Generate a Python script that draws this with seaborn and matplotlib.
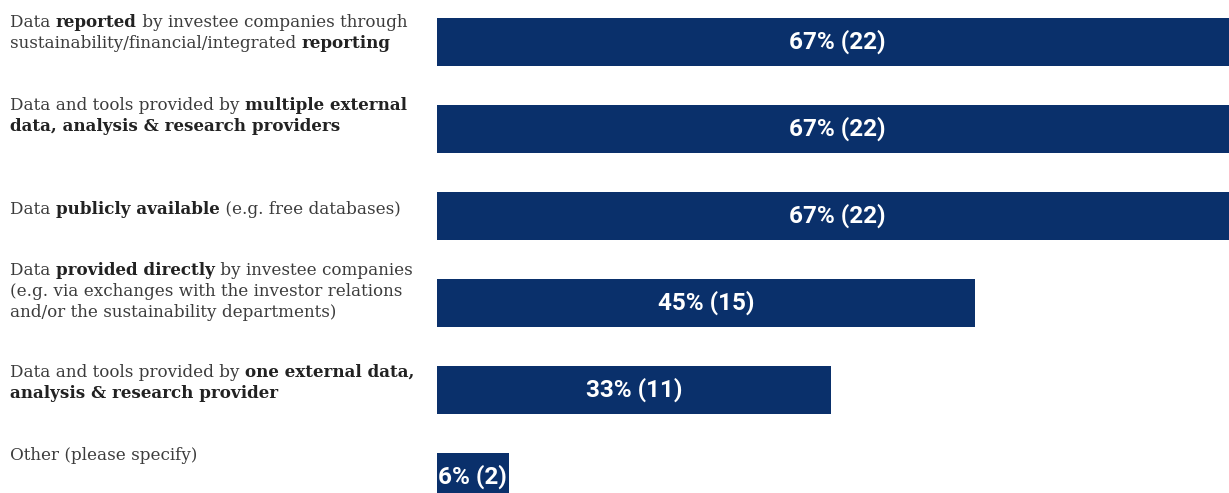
import matplotlib
matplotlib.use("Agg")
import matplotlib.pyplot as plt
import matplotlib.transforms as mtransforms
import seaborn as sns
import pandas as pd

# Survey responses: share of respondents and respondent counts
categories = [
    "Data reported by investee companies through sustainability/financial/integrated reporting",
    "Data and tools provided by multiple external data, analysis & research providers",
    "Data publicly available (e.g. free databases)",
    "Data provided directly by investee companies (e.g. via exchanges with the investor relations and/or the sustainability departments)",
    "Data and tools provided by one external data, analysis & research provider",
    "Other (please specify)",
]
percentages = [67, 67, 67, 45, 33, 6]
counts = [22, 22, 22, 15, 11, 2]

# Category labels split into lines of (text, is_bold) runs
label_runs = [
    [[("Data ", False), ("reported", True), (" by investee companies through", False)],
     [("sustainability/financial/integrated ", False), ("reporting", True)]],
    [[("Data and tools provided by ", False), ("multiple external", True)],
     [("data, analysis & research providers", True)]],
    [[("Data ", False), ("publicly available", True), (" (e.g. free databases)", False)]],
    [[("Data ", False), ("provided directly", True), (" by investee companies", False)],
     [("(e.g. via exchanges with the investor relations", False)],
     [("and/or the sustainability departments)", False)]],
    [[("Data and tools provided by ", False), ("one external data,", True)],
     [("analysis & research provider", True)]],
    [[("Other (please specify)", False)]],
]

df = pd.DataFrame({"category": categories, "pct": percentages, "n": counts})

BAR = "#0a306b"
W, H, DPI = 1229, 493, 100
sns.set_theme(style="white")
plt.rcParams["font.family"] = ["DejaVu Serif"]

fig = plt.figure(figsize=(W / DPI, H / DPI), dpi=DPI)
ax = fig.add_axes([437 / W, 0, 1 - 437 / W, 1])

sns.barplot(data=df, x="pct", y="category", orient="h", color=BAR,
            saturation=1, width=0.55, ax=ax)
for p in ax.patches:
    p.set_edgecolor("none")

ax.set_xlim(0, 66.3)
ax.set_ylim(5.184, -0.483)
ax.set_xlabel("")
ax.set_ylabel("")
ax.set_xticks([])
ax.set_yticks([])
sns.despine(ax=ax, left=True, bottom=True)

# Value labels centred in each bar
for i, (pct, n) in enumerate(zip(percentages, counts)):
    ax.text(pct / 2, i, f"{pct}% ({n})", ha="center", va="center",
            color="white", fontsize=17.5, fontweight="bold", family="Roboto")

# Category labels on the left, with bold runs chained after regular ones
trans = mtransforms.blended_transform_factory(fig.transFigure, ax.transData)
line_px = 21
label_shift = [-9, -13, -7, -12, -7, -21]
fig.canvas.draw()
for i, lines in enumerate(label_runs):
    nlines = len(lines)
    center_px = label_shift[i]
    for li, runs in enumerate(lines):
        dy = center_px + (li - (nlines - 1) / 2) * line_px
        off = mtransforms.ScaledTranslation(0, -dy / DPI, fig.dpi_scale_trans)
        prev = None
        for text, bold in runs:
            kw = dict(fontsize=12.1, color="#222222" if bold else "#3c3c3c",
                      fontweight="bold" if bold else "normal",
                      ha="left", va="center")
            if prev is None:
                prev = fig.text(10 / W, i, text, transform=trans + off, **kw)
            else:
                prev = ax.annotate(text, xy=(1, 0.5), xycoords=prev,
                                   annotation_clip=False, **kw)

fig.savefig("out.png", dpi=DPI)
